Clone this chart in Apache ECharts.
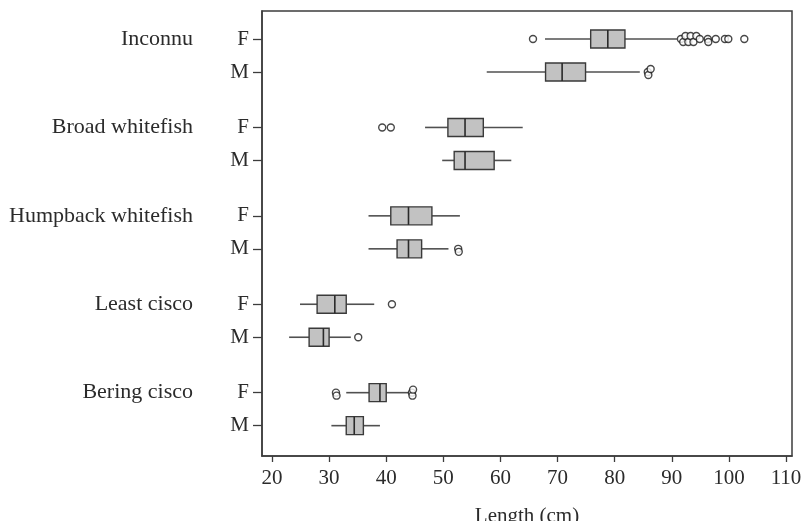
<!DOCTYPE html>
<html>
<head>
<meta charset="utf-8">
<script src="https://cdn.jsdelivr.net/npm/echarts@6/dist/echarts.min.js"></script>
<style>
  html, body { margin: 0; padding: 0; background: #fff; }
  #chart { width: 802px; height: 521px; }
</style>
</head>
<body>
<div id="chart"></div>
<script>
// species and sex rows, top to bottom
const species = ["Inconnu", "Broad whitefish", "Humpback whitefish", "Least cisco", "Bering cisco"];
const sexes = ["F", "M"];

// [min whisker, Q1, median, Q3, max whisker] for each row (species x sex)
const boxStats = [
  [67.8, 75.8, 78.8, 81.8, 90.9],
  [57.6, 67.9, 70.8, 74.9, 84.4],
  [46.8, 50.8, 53.8, 57.0, 63.9],
  [49.8, 51.9, 53.8, 58.9, 61.9],
  [36.9, 40.8, 43.9, 48.0, 52.9],
  [36.9, 41.9, 43.9, 46.2, 50.9],
  [24.9, 27.9, 31.0, 33.0, 37.9],
  [23.0, 26.5, 29.0, 30.0, 33.8],
  [33.0, 37.0, 38.9, 40.0, 44.2],
  [30.4, 33.0, 34.4, 36.0, 38.9]
];

// outliers for each row
const outliers = [
  [65.7, 91.6, 92.0, 92.4, 92.9, 93.3, 93.8, 94.3, 94.9, 96.3, 96.4, 97.7, 99.3, 99.9, 102.7],
  [85.8, 85.9, 86.3],
  [39.3, 40.8],
  [],
  [],
  [52.6, 52.7],
  [41.0],
  [35.1],
  [31.2, 31.3, 44.5, 44.6, 44.7],
  []
];

// x axis ticks
const xTicks = [20, 30, 40, 50, 60, 70, 80, 90, 100, 110];

// row slot on the y axis: two rows per species, wider gap between species
const groupStep = 2.68;
const rowPos = [];
species.forEach((s, g) => {
  sexes.forEach((x, k) => rowPos.push(+(g * groupStep + k).toFixed(2)));
});
const fPos = rowPos.filter((p, i) => i % 2 === 0);

function nearestIndex(arr, v) {
  let best = 0;
  arr.forEach((p, i) => { if (Math.abs(p - v) < Math.abs(arr[best] - v)) best = i; });
  return best;
}

// outlier points; near-identical values are nudged up/down like the original
const outlierData = [];
outliers.forEach((list, i) => {
  let flip = 1;
  list.forEach((v, j) => {
    let off = 0;
    if (j > 0 && v - list[j - 1] < 0.6) { off = 3 * flip; flip = -flip; }
    else flip = 1;
    outlierData.push({ value: [v, rowPos[i]], symbolOffset: [0, off] });
  });
});

const font = "Liberation Serif";
const ink = "#2b2b2b";
const frame = "#3c3c3c";

const chart = echarts.init(document.getElementById("chart"));
chart.setOption({
  animation: false,
  backgroundColor: "#fff",
  grid: {
    left: 262, right: 10, top: 11, bottom: 65,
    show: true, borderColor: frame, borderWidth: 1.5,
    outerBoundsMode: "none"
  },
  xAxis: {
    type: "value",
    min: 18.25,
    max: 111.05,
    splitLine: { show: false },
    axisLine: { onZero: false, lineStyle: { color: frame, width: 1.5 } },
    axisTick: { customValues: xTicks, length: 6, lineStyle: { color: frame, width: 1.3 } },
    axisLabel: { customValues: xTicks, margin: 12, color: ink, fontFamily: font, fontSize: 21 },
    name: "Length (cm)",
    nameLocation: "middle",
    nameGap: 50,
    nameTextStyle: { color: ink, fontFamily: font, fontSize: 21 }
  },
  yAxis: [
    {
      type: "value",
      inverse: true,
      min: -0.85,
      max: 12.64,
      splitLine: { show: false },
      axisLine: { show: true, onZero: false, lineStyle: { color: frame, width: 1.5 } },
      axisTick: { show: true, customValues: rowPos, length: 9, lineStyle: { color: frame, width: 1.3 } },
      axisLabel: {
        customValues: rowPos,
        margin: 13,
        color: ink, fontFamily: font, fontSize: 21,
        formatter: v => sexes[nearestIndex(rowPos, v) % 2]
      }
    },
    {
      type: "value",
      inverse: true,
      min: -0.85,
      max: 12.64,
      position: "left",
      splitLine: { show: false },
      axisLine: { show: false, onZero: false },
      axisTick: { show: false },
      axisLabel: {
        customValues: fPos,
        margin: 69,
        color: ink, fontFamily: font, fontSize: 22,
        formatter: v => species[nearestIndex(fPos, v)]
      }
    }
  ],
  series: [
    {
      type: "custom",
      encode: { x: [1, 2, 3, 4, 5], y: 0 },
      data: boxStats.map((s, i) => [rowPos[i]].concat(s)),
      renderItem: (params, api) => {
        const y = api.value(0);
        const p = [1, 2, 3, 4, 5].map(d => api.coord([api.value(d), y]));
        const cy = p[0][1];
        const h = 9;
        const whisker = { stroke: "#505050", lineWidth: 1.6 };
        return {
          type: "group",
          children: [
            { type: "line", shape: { x1: p[0][0], y1: cy, x2: p[1][0], y2: cy }, style: whisker },
            { type: "line", shape: { x1: p[3][0], y1: cy, x2: p[4][0], y2: cy }, style: whisker },
            {
              type: "rect",
              shape: { x: p[1][0], y: cy - h, width: p[3][0] - p[1][0], height: 2 * h },
              style: { fill: "#c2c2c2", stroke: "#3a3a3a", lineWidth: 1.4 }
            },
            {
              type: "line",
              shape: { x1: p[2][0], y1: cy - h, x2: p[2][0], y2: cy + h },
              style: { stroke: "#2a2a2a", lineWidth: 1.6 }
            }
          ]
        };
      }
    },
    {
      type: "scatter",
      data: outlierData,
      symbol: "circle",
      symbolSize: 7,
      itemStyle: { color: "#fff", borderColor: "#1a1a1a", borderWidth: 1.4 },
      z: 3
    }
  ]
});
</script>
</body>
</html>
